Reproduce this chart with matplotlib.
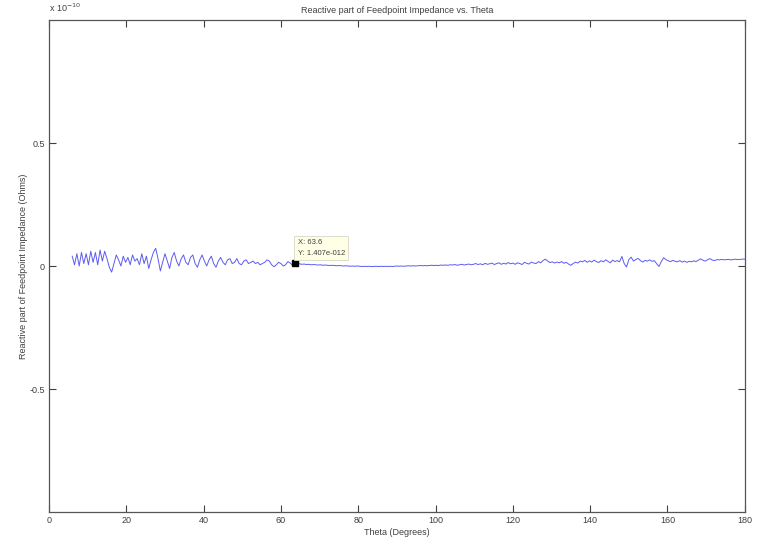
import numpy as np
import matplotlib
matplotlib.use('Agg')
import matplotlib.pyplot as plt
from matplotlib.ticker import FuncFormatter

## Data (reactance in units of 1e-12 Ohms, theta sampled every 0.6 deg from 6 deg)
theta_start, theta_step = 6.0, 0.6

x_fast = [4.0, 0.5, 5.0, 0.0, 5.5, 1.0, 5.0, 0.5, 6.0, 1.5, 5.5, 0.5, 6.5, 2.0, 6.0,
          3.0, -0.5, -2.5, 1.0, 4.5, 2.5]
x_mid = [0.0, 4.0, 1.5, 3.5, 0.5, 4.5, 2.0, 3.0, 0.5, 5.0,
         1.0, 4.0, -1.0, 2.5, 5.5, 7.2, 3.0, -2.0, 1.5, 5.0,
         2.0, -1.0, 3.5, 5.5, 2.0, 0.0, 3.0, 4.5, 1.5, 0.5,
         3.5, 4.5, 1.0, -0.5, 2.5, 4.5, 2.0, 0.0, 2.5, 4.0,
         1.0, -0.5, 2.0, 3.5, 1.5, 0.5, 2.5, 3.0, 1.0, 1.5,
         3.0, 1.0, 0.5, 2.0, 2.5, 1.0, 1.5, 2.0, 1.0, 1.5,
         0.5, 1.0, 1.5, 2.5, 2.0, 0.5, -0.3, 0.5, 1.5, 1.0,
         0.0, 0.5, 1.8, 1.2, 0.3, 1.407]
x_flat = [0.8, 0.9, 0.7, 0.8, 0.6, 0.7, 0.5, 0.6, 0.5, 0.4,
          0.5, 0.3, 0.4, 0.3, 0.2, 0.3, 0.2, 0.1, 0.2, 0.1,
          0.0, 0.1, 0.0, -0.1, 0.0, -0.1, 0.0, -0.1, -0.2, -0.1,
          -0.2, -0.1, -0.2, -0.2, -0.1, -0.2, -0.1, -0.2, -0.1, -0.2,
          -0.1, -0.2, -0.1, 0.0, -0.1, 0.0, -0.1, 0.0, 0.1, 0.0,
          0.1, 0.0, 0.1, 0.2]
x_rise = [0.1, 0.2, 0.1, 0.2, 0.3, 0.2, 0.3, 0.2, 0.4, 0.3,
          0.4, 0.3, 0.5, 0.4, 0.6, 0.3, 0.5, 0.7, 0.4, 0.6,
          0.8, 0.5, 0.7, 1.0, 0.6, 0.9, 0.5, 1.1, 0.7, 0.9,
          1.2, 0.6, 1.0, 1.3, 0.7, 1.1, 0.8, 1.4, 0.9, 1.2]
x_tail = [0.7, 1.3, 1.0, 0.6, 1.5, 1.1, 0.8, 1.6, 1.2, 1.0,
          1.8, 1.3, 2.2, 2.8, 2.0, 1.4, 1.7, 1.2, 1.6, 1.3,
          1.8, 1.1, 1.5, 0.8, 0.3, 1.0, 1.6, 1.2, 2.0, 1.7,
          2.3, 1.5, 2.1, 1.6, 2.4, 1.8, 1.4, 2.2, 1.7, 2.5,
          1.9, 1.3, 2.4, 1.8, 2.2, 1.7, 3.9, 1.0, -0.4, 2.6,
          3.6, 2.0, 2.6, 3.1, 2.2, 1.6, 2.3, 2.0, 2.5, 1.9,
          2.2, 0.9, -0.2, 1.8, 3.4, 2.6, 2.1, 1.8, 2.3, 1.9,
          1.7, 2.2, 1.6, 2.0, 1.5, 1.9, 1.7, 2.1, 1.8, 2.4,
          2.9, 2.3, 2.0, 2.6, 3.0, 2.4, 2.2, 2.6, 2.5, 2.7,
          2.5, 2.6, 2.7, 2.5, 2.6, 2.8, 2.6, 2.7, 2.8, 2.8]

reactance = np.array(x_fast + x_mid + x_flat + x_rise + x_tail) * 1e-12
theta = theta_start + theta_step * np.arange(len(reactance))

tip_x, tip_y = 63.6, 1.407e-12
tip_text = 'X: 63.6\nY: 1.407e-012'

#%% Plot
plt.rcParams['font.family'] = ['Liberation Sans', 'DejaVu Sans']
gray = '#404040'

fig = plt.figure(figsize=(7.6, 5.38), dpi=100)
ax = fig.add_axes([0.0645, 0.0483, 0.9155, 0.9145])

ax.plot(theta, reactance, color='#5c5cf0', lw=0.7)
ax.plot([tip_x], [tip_y], 's', color='black', ms=4)
ax.annotate(tip_text, xy=(tip_x, tip_y), xytext=(2, 4), textcoords='offset points',
            fontsize=5.5, color=gray, va='bottom', ha='left', linespacing=1.7,
            bbox=dict(boxstyle='square,pad=0.45', fc='#ffffe6', ec='#d8d8c8', lw=0.6))

ax.set_xlim(0, 180)
ax.set_ylim(-1e-10, 1e-10)
ax.set_xticks(np.arange(0, 181, 20))
ax.set_yticks([-0.5e-10, 0, 0.5e-10])
ax.yaxis.set_major_formatter(FuncFormatter(lambda v, p: '%g' % round(v / 1e-10, 3)))

ax.tick_params(direction='in', length=5, width=0.8, colors=gray, labelsize=6.5,
               top=True, right=True, pad=3)
for s in ax.spines.values():
    s.set_color('#555555')
    s.set_linewidth(0.9)

ax.set_title('Reactive part of Feedpoint Impedance vs. Theta', fontsize=6.5, color=gray, pad=5)
ax.set_xlabel('Theta (Degrees)', fontsize=6.5, color=gray, labelpad=2)
ax.set_ylabel('Reactive part of Feedpoint Impedance (Ohms)', fontsize=6.5, color=gray, labelpad=1)
ax.text(0, 1.012, r'x 10$^{-10}$', transform=ax.transAxes, fontsize=6.5, color=gray,
        ha='left', va='bottom')

fig.savefig('out.png', dpi=100, facecolor='white')
